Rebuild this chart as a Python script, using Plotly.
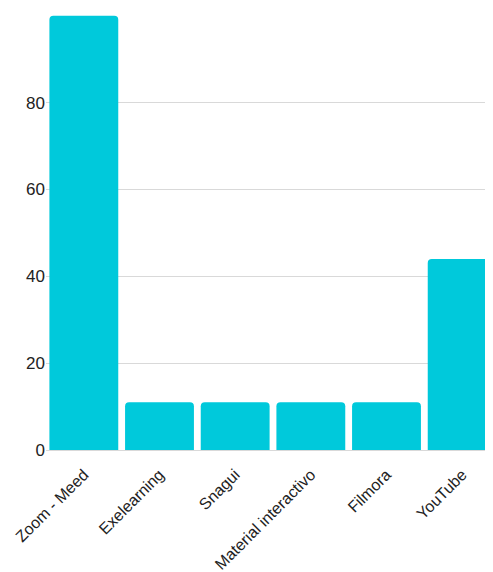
import plotly.graph_objects as go

categories = ["Zoom - Meed", "Exelearning", "Snagui", "Material interactivo", "Filmora", "YouTube"]
values = [100, 11, 11, 11, 11, 44]

fig = go.Figure(go.Bar(x=categories, y=values, marker_color="#00C9DB", marker_line_width=0))
fig.update_layout(
    width=493, height=572,
    margin=dict(l=38, r=1, t=7, b=130, autoexpand=False),
    paper_bgcolor="white", plot_bgcolor="white",
    bargap=0.09, barcornerradius=4,
    font=dict(family="Liberation Sans, Arial, sans-serif", size=16, color="#222"),
    showlegend=False,
)
fig.update_yaxes(range=[0, 100.2], dtick=20, gridcolor="#d9d9d9", zeroline=False,
                 tickfont=dict(size=17), ticks="", showline=False)
fig.update_xaxes(tickangle=-45, showline=True, linecolor="#d9d9d9", ticks="outside",
                 ticklen=8, tickcolor="white")
fig.write_html("out.html")
